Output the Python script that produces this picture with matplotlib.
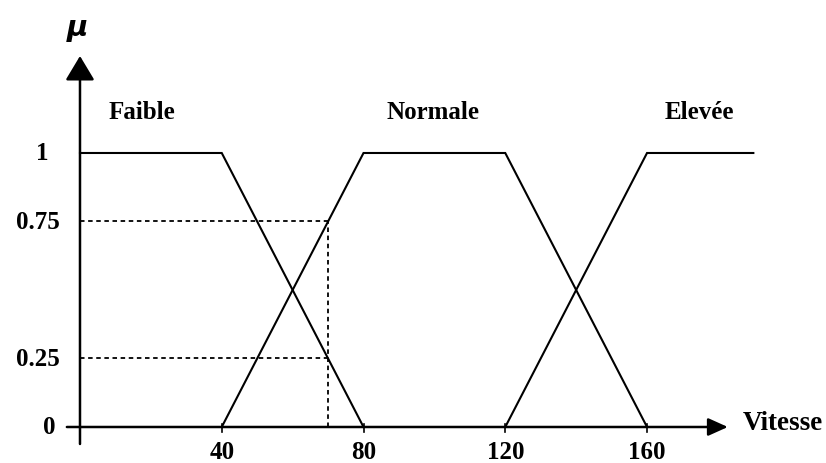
import matplotlib
matplotlib.use("Agg")
import matplotlib.pyplot as plt

# membership functions (speed -> mu)
faible_x = [0, 40, 80]
faible_mu = [1, 1, 0]
normale_x = [40, 80, 120, 160]
normale_mu = [0, 1, 1, 0]
elevee_x = [120, 160, 190]
elevee_mu = [0, 1, 1]

x_ticks = [40, 80, 120, 160]
y_ticks = [0, 0.25, 0.75, 1]
y_labels = ["0", "0.25", "0.75", "1"]
set_names = ["Faible", "Normale", "Elevée"]
set_label_x = [17.5, 99.6, 174.7]

x_obs = 70
mu_normale_obs = 0.75
mu_faible_obs = 0.25

SERIF = ["Liberation Serif", "DejaVu Serif"]

fig = plt.figure(figsize=(8.26, 4.64), dpi=100)
ax = fig.add_axes([0, 0, 1, 1])
ax.set_xlim(-22.57, 210.5)
ax.set_ylim(-0.1314, 1.562)
ax.axis("off")

# axes with arrows
ax.annotate("", xy=(0, 1.354), xytext=(0, -0.062),
            arrowprops=dict(arrowstyle="-|>,head_length=0.75,head_width=0.45",
                            mutation_scale=20, lw=1.8, color="black",
                            shrinkA=0, shrinkB=0))
ax.annotate("", xy=(182.8, 0), xytext=(-3.7, 0),
            arrowprops=dict(arrowstyle="-|>,head_length=0.6,head_width=0.27",
                            mutation_scale=20, lw=1.8, color="black",
                            shrinkA=0, shrinkB=0))

for xt in x_ticks:
    ax.plot([xt, xt], [-0.02, 0.012], color="black", lw=1.2)
    ax.text(xt, -0.09, str(xt), ha="center", va="center",
            fontsize=18, fontweight="bold", family=SERIF)

y_label_x = [-8.7, -11.8, -11.8, -10.7]
for yv, lab, xl in zip(y_ticks, y_labels, y_label_x):
    ax.text(xl, yv, lab, ha="center", va="center",
            fontsize=18, fontweight="bold", family=SERIF)

# membership curves
for xs, ms in [(faible_x, faible_mu), (normale_x, normale_mu), (elevee_x, elevee_mu)]:
    ax.plot(xs, ms, color="black", lw=1.5, solid_joinstyle="miter")

# dotted reading lines
dash = dict(color="black", lw=1.3, ls=(0, (2.5, 2)))
ax.plot([0, x_obs], [mu_normale_obs, mu_normale_obs], **dash)
ax.plot([0, x_obs], [mu_faible_obs, mu_faible_obs], **dash)
ax.plot([x_obs, x_obs], [0, mu_normale_obs], **dash)

for name, xl in zip(set_names, set_label_x):
    ax.text(xl, 1.153, name, ha="center", va="center",
            fontsize=18, fontweight="bold", family=SERIF)

ax.text(-0.85, 1.46, "μ", ha="center", va="center", fontsize=21,
        fontweight="bold", fontstyle="italic", family="DejaVu Sans")
ax.text(187.1, 0.018, "Vitesse", ha="left", va="center",
        fontsize=19.5, fontweight="bold", family=SERIF)

fig.savefig("out.png", dpi=100)
